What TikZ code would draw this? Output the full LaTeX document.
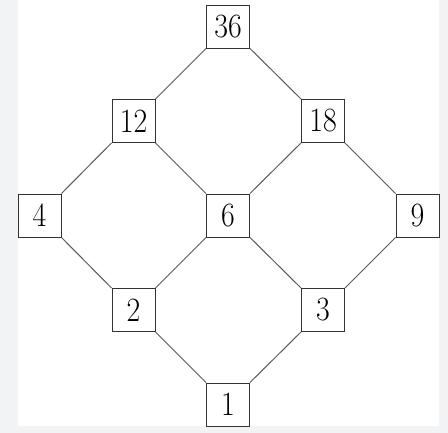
\documentclass[tikz,border=0pt]{standalone}
\usepackage{fontspec}
\newfontfamily\numfont{Latin Modern Roman}[FakeStretch=0.88]
\definecolor{pagegray}{HTML}{F2F3F5}
\definecolor{linkgray}{HTML}{5A5A5A}
\begin{document}
\begin{tikzpicture}[x=1pt,y=1pt,
  numbox/.style={draw=black!80,line width=0.9pt,fill=white,minimum width=43pt,minimum height=43pt,inner sep=0pt,font=\numfont\fontsize{34}{34}\selectfont},
  link/.style={draw=linkgray,line width=1pt}]
\fill[pagegray] (0,0) rectangle (448,433);
\fill[white] (18,7) rectangle (439,433);
\useasboundingbox (0,0) rectangle (448,433);
\node[numbox] (n36) at (228,406.5) {36};
\node[numbox] (n12) at (133.5,312) {12};
\node[numbox] (n18) at (323,312) {18};
\node[numbox] (n4) at (39.5,217.5) {4};
\node[numbox] (n6) at (228,217.5) {6};
\node[numbox] (n9) at (417.5,217.5) {9};
\node[numbox] (n2) at (133.5,123) {2};
\node[numbox] (n3) at (323,123) {3};
\node[numbox] (n1) at (228,28.5) {1};
\draw[link] (n36.south west) -- (n12.north east);
\draw[link] (n36.south east) -- (n18.north west);
\draw[link] (n12.south west) -- (n4.north east);
\draw[link] (n12.south east) -- (n6.north west);
\draw[link] (n18.south west) -- (n6.north east);
\draw[link] (n18.south east) -- (n9.north west);
\draw[link] (n4.south east) -- (n2.north west);
\draw[link] (n6.south west) -- (n2.north east);
\draw[link] (n6.south east) -- (n3.north west);
\draw[link] (n9.south west) -- (n3.north east);
\draw[link] (n2.south east) -- (n1.north west);
\draw[link] (n3.south west) -- (n1.north east);
\end{tikzpicture}
\end{document}
